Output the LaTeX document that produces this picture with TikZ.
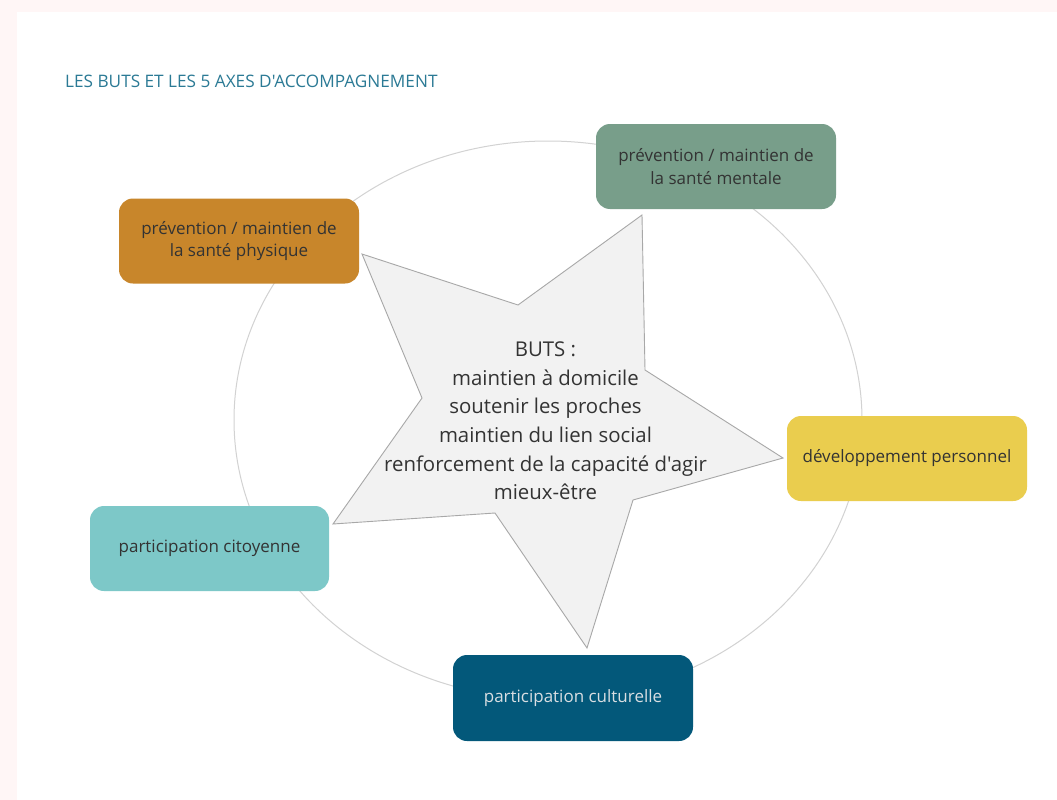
\documentclass[tikz,border=0pt]{standalone}
\usepackage{fontspec}
\setmainfont{Open Sans}[Ligatures=TeXOff]
\definecolor{pinkbg}{HTML}{FFF6F6}
\definecolor{cphys}{HTML}{C8862B}
\definecolor{cment}{HTML}{789E8A}
\definecolor{cdev}{HTML}{EACD4E}
\definecolor{ccit}{HTML}{7DC8C8}
\definecolor{ccult}{HTML}{03587A}
\definecolor{ctitle}{HTML}{2B7A95}
\definecolor{ctxt}{HTML}{333333}
\definecolor{ccultxt}{HTML}{D9DEE2}
\definecolor{cring}{HTML}{D2D2D2}
\definecolor{cstarfill}{HTML}{F2F2F2}
\definecolor{cstarline}{HTML}{A8A8A8}
\begin{document}
\begin{tikzpicture}[x=1pt,y=-1pt,
  box/.style={rounded corners=14pt, inner sep=0pt, minimum width=240pt, minimum height=85pt,
    align=center, font=\fontsize{17}{22.7}\selectfont, text=ctxt},
  ring/.style={draw=cring, line width=1pt},
  starshape/.style={draw=cstarline, fill=cstarfill, line width=0.9pt, line join=miter}]
\useasboundingbox (0,0) rectangle (1057,800);
\fill[pinkbg] (0,0) rectangle (1057,800);
\fill[white] (17,12) rectangle (1057,800);
\node[anchor=base west, text=ctitle, font=\fontsize{17.2}{20}\selectfont, inner sep=0pt] (title) at (65,87) {LES BUTS ET LES 5 AXES D'ACCOMPAGNEMENT};
\draw[ring] (548,420) ellipse [x radius=314, y radius=279];
\draw[starshape] (362,254) -- (518,305) -- (642,215) -- (645,370) -- (783,458) -- (633,500) -- (587,648) -- (495,513) -- (333,524) -- (422,398) -- cycle;
\node[align=center, text=ctxt, font=\fontsize{20.4}{28.6}\selectfont, inner sep=0pt] (buts) at (545.5,421)
  {BUTS :\\maintien à domicile\\soutenir les proches\\maintien du lien social\\renforcement de la capacité d'agir\\mieux-être};
\node[box, fill=cphys] (phys) at (239,241) {prévention / maintien de\\la santé physique};
\node[box, fill=cment] (ment) at (716,166.5) {prévention / maintien de\\la santé mentale};
\node[box, fill=cdev] (dev) at (907,458.5) {développement personnel};
\node[box, fill=ccit, minimum width=239pt] (cit) at (209.5,548.5) {participation citoyenne};
\node[box, fill=ccult, text=ccultxt, minimum height=86pt] (cult) at (573,698) {participation culturelle};
\end{tikzpicture}
\end{document}
